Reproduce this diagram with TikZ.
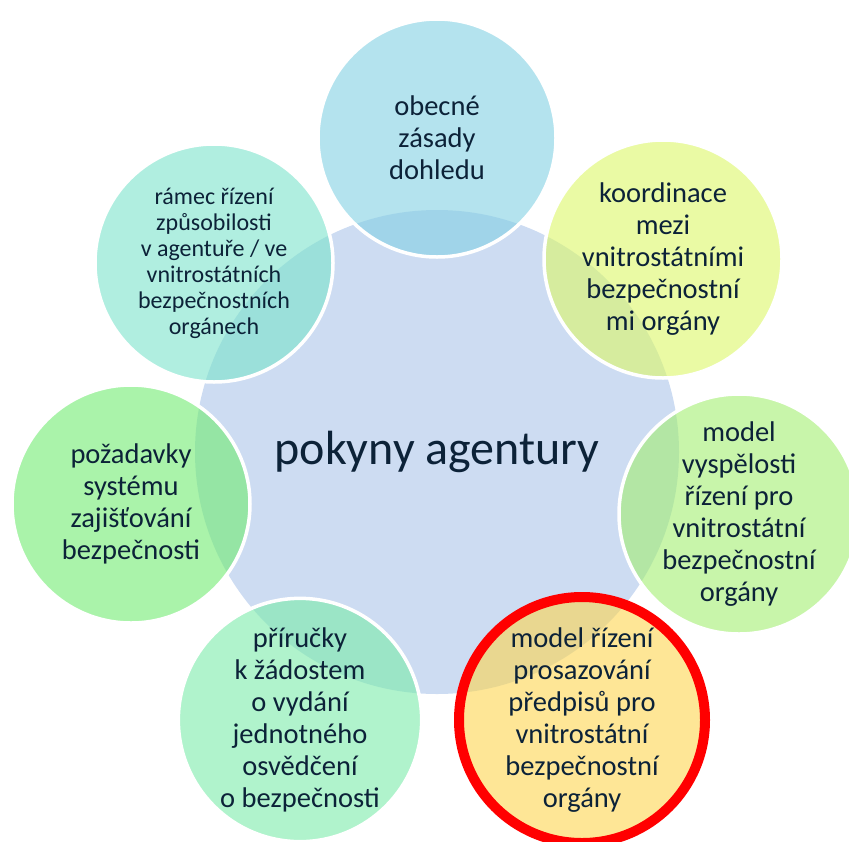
\documentclass[tikz,border=0pt]{standalone}
\usepackage{fontspec}
\setmainfont{Carlito}
\definecolor{hubblue}{RGB}{205,220,242}
\definecolor{inkblue}{RGB}{12,34,56}
\definecolor{cTop}{RGB}{130,208,227}
\definecolor{cKoord}{RGB}{220,247,103}
\definecolor{cModel}{RGB}{163,238,113}
\definecolor{cProsaz}{RGB}{253,213,80}
\definecolor{cPrir}{RGB}{123,235,170}
\definecolor{cPoz}{RGB}{113,235,113}
\definecolor{cRamec}{RGB}{123,227,203}
\begin{document}
\begin{tikzpicture}[x=1pt,y=-1pt,
		hub/.style={circle,fill=hubblue,minimum size=484pt,inner sep=0pt,text=inkblue,font=\fontsize{48}{56}\selectfont},
		satellite/.style={circle,draw=white,line width=3.5pt,fill opacity=0.6,text opacity=1,minimum size=238pt,inner sep=0pt,align=center,text=inkblue,font=\fontsize{28.5}{32}\selectfont}]
		\useasboundingbox (0,0) rectangle (849,841);
		\node[hub,text depth=8pt] (hub) at (437,452) {pokyny agentury};
		\node[satellite,fill=cTop] (zasady) at (437,138) {obecné\\zásady\\dohledu};
		\node[satellite,fill=cKoord] (koord) at (663,259) {koordinace\\mezi\\vnitrostátními\\bezpečnostní\\mi orgány};
		\node[satellite,fill=cModel] (vyspel) at (739,514) {model\\vyspělosti\\řízení pro\\vnitrostátní\\bezpečnostní\\orgány};
		\node[satellite,fill=cProsaz,draw=red,line width=10pt,minimum size=246pt] (prosaz) at (582,720) {model řízení\\prosazování\\předpisů pro\\vnitrostátní\\bezpečnostní\\orgány};
		\node[satellite,fill=cPrir] (prirucky) at (300,720) {příručky\\k žádostem\\o vydání\\jednotného\\osvědčení\\o bezpečnosti};
		\node[satellite,fill=cPoz] (pozad) at (131,504) {požadavky\\systému\\zajišťování\\bezpečnosti};
		\node[satellite,fill=cRamec,font=\fontsize{24}{26}\selectfont] (ramec) at (214,263) {rámec řízení\\způsobilosti\\v agentuře / ve\\vnitrostátních\\bezpečnostních\\orgánech};
		\end{tikzpicture}
\end{document}
